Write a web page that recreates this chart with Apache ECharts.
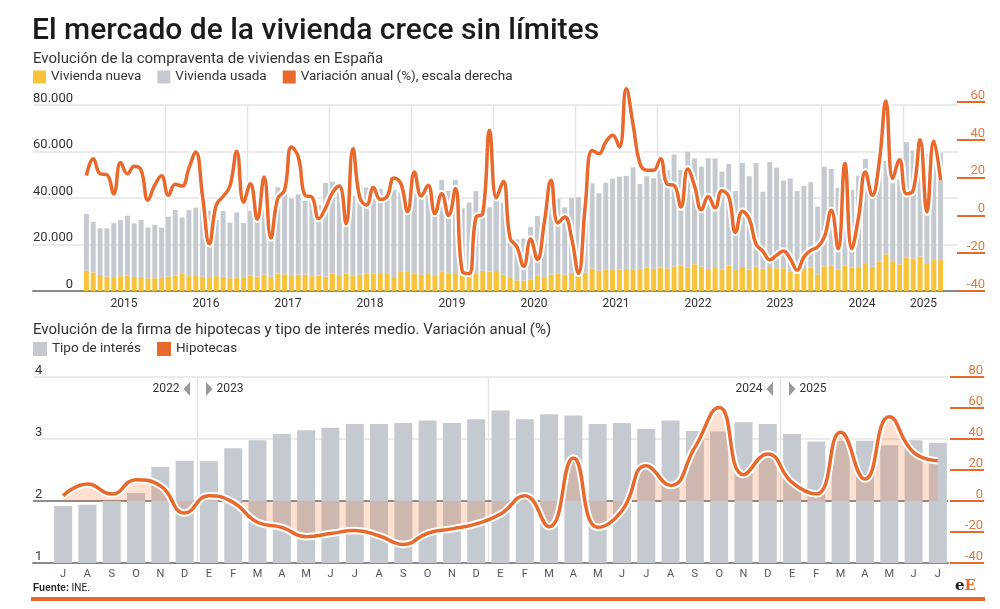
<!DOCTYPE html>
<html lang="es">
<head>
<meta charset="UTF-8">
<title>El mercado de la vivienda crece sin límites</title>
<script src="https://cdn.jsdelivr.net/npm/echarts@6/dist/echarts.min.js"></script>
<style>
  html, body { margin: 0; padding: 0; background: #fff; }
  #chart { width: 1000px; height: 609px; }
</style>
</head>
<body>
<div id="chart"></div>
<script>
// Compraventa de viviendas, enero 2015 - junio 2025
let anios = [2015, 2016, 2017, 2018, 2019, 2020, 2021, 2022, 2023, 2024, 2025];
let nueva = [
  8700, 8000, 6900, 6200, 6000, 6400, 6600, 6000, 6100, 5400, 5500, 5600,
  6200, 6600, 7600, 6400, 6800, 6200, 6000, 6400, 6100, 5500, 5900, 5600,
  6600, 6200, 7000, 6100, 7500, 7200, 6800, 7000, 7100, 6400, 6700, 6200,
  7500, 6800, 7400, 6500, 7000, 7400, 7400, 7300, 7300, 6000, 8500, 8200,
  7400, 7000, 7300, 6800, 8500, 7600, 7700, 6500, 6800, 7300, 8700, 8400,
  8600, 7000, 5600, 4600, 4400, 4800, 6500, 5600, 7100, 7400, 7000, 7800,
  7400, 7800, 9700, 8800, 9200, 9000, 9200, 9500, 9400, 9500, 10200, 9500,
  10000, 9700, 10500, 11000, 10200, 11500, 10500, 9500, 10300, 9300, 11000, 9000,
  10300, 9200, 10400, 9600, 10300, 9800, 9800, 8400, 9800, 9500, 10200, 7200,
  10600, 10800, 9200, 11000, 10000, 10300, 12000, 10400, 12600, 15800, 12500, 11500,
  14300, 14000, 14800, 12000, 13300, 13300
];
let usada = [
  24400, 21800, 20100, 20800, 23200, 24100, 25800, 23100, 24500, 21900, 23000, 21600,
  25800, 28200, 24000, 28400, 29100, 30100, 28500, 24200, 28300, 23900, 27900, 23700,
  27900, 25800, 32500, 28900, 37100, 35100, 32900, 34600, 31600, 34900, 30300, 40300,
  39500, 37200, 36100, 34500, 38500, 37100, 33100, 36700, 32700, 37500, 34000, 30300,
  36600, 35000, 35700, 34200, 39200, 35400, 40000, 29100, 31300, 35700, 28300, 27600,
  31400, 31000, 19900, 17600, 18100, 22800, 25800, 24400, 29900, 32200, 29000, 32200,
  32900, 37100, 36600, 33200, 37400, 39400, 40000, 40000, 43800, 36500, 39200, 39000,
  43000, 42300, 48200, 41000, 49700, 45500, 43000, 47600, 46700, 42000, 43600, 34000,
  44800, 40200, 44600, 33100, 45100, 43200, 37700, 40000, 33200, 35700, 36600, 29100,
  42900, 41700, 35200, 39000, 33400, 39300, 44800, 35200, 39400, 40200, 33800, 36500,
  49700, 46500, 40200, 47000, 42300, 46000
];
let variacion = [
  21, 30, 22, 21.5, 11.5, 28, 22, 26, 24, 8, 16, 21,
  10.6, 16.5, 15.5, 25, 33.5, 10, -15, 5.5, 10, 15.5, 34, 7,
  16.8, -2, 20.3, -12, 9, 13.3, 36.2, 31, 10.6, 9.7, -1.7, 4,
  12, 15.5, -4.4, 35.3, 9.5, 5.5, 14.8, 8.5, 10, 19.8, 17, 2,
  23, 10.2, 16, 1, 11.5, 0, 14.2, -29.5, -30.8, -1, 1, 45,
  9.3, 18, -12, -16.7, -27, -12.5, -23.3, -4, 18.6, -4, -0.9, -12,
  -30.7, 5, 34.4, 32.7, 38.8, 42.4, 36.2, 67, 48, 27.4, 23.9, 23.9,
  30, 16.5, 15.9, 4.4, 24.5, 15.5, 3, 10, 4, 13, 10, -9,
  2.2, -1.8, -15.2, -19, -23.5, -21.1, -18.8, -22.9, -29, -22, -18.5, -16.7,
  -11.4, 2.7, -17.6, 27.4, -17.6, -0.9, 23, 10.6, 27.4, 60.5, 19.5, 29.5,
  11.5, 13.3, 40, 1.8, 39.4, 18.6
];

// Hipotecas y tipo de interés, julio 2022 - julio 2025
let mesesHip = ['J','A','S','O','N','D',
  'E','F','M','A','M','J','J','A','S','O','N','D',
  'E','F','M','A','M','J','J','A','S','O','N','D',
  'E','F','M','A','M','J','J'];
let tipoInteres = [1.92, 1.94, 2.0, 2.13, 2.55, 2.65,
  2.64, 2.85, 2.98, 3.08, 3.14, 3.18, 3.24, 3.24, 3.26, 3.30, 3.26, 3.32,
  3.46, 3.32, 3.40, 3.38, 3.24, 3.26, 3.16, 3.30, 3.13, 3.12, 3.27, 3.24,
  3.08, 2.96, 2.97, 2.97, 2.90, 2.98, 2.94];
let hipotecas = [3.4, 11, 4.5, 13.7, 9.9, -7.7,
  3.4, -0.9, -13.7, -17, -23, -21, -19, -22.4, -28, -20.8, -18, -14.8,
  -8.4, 3.4, -16.6, 27.7, -17, -6.3, 22.8, 10, 34.6, 60.4, 17, 30.3,
  12, 4.5, 44.3, 14.2, 54.4, 31.4, 26];
let marcasAnio = [
  { idx: 6, antes: '2022', despues: '2023' },
  { idx: 30, antes: '2024', despues: '2025' }
];

const naranja = '#e9692c';
const naranjaTexto = '#e47a3f';
const gris = '#c5cad0';
const amarillo = '#f8c23a';
const rejilla = '#e4e4e4';

// categorias mensuales y donde va la etiqueta del año
let meses = [];
anios.forEach(a => {
  for (let m = 1; m <= 12; m++) {
    if (meses.length < nueva.length) meses.push(a + '-' + m);
  }
});
let etiquetasAnio = new Set();
anios.forEach((a, k) => {
  let ini = k * 12, fin = Math.min(ini + 12, meses.length);
  etiquetasAnio.add(Math.floor((ini + fin) / 2));
});

function miles(v) {
  return String(v).replace(/\B(?=(\d{3})+(?!\d))/g, '.');
}

let chart = echarts.init(document.getElementById('chart'));
let option = {
  animation: false,
  textStyle: { fontFamily: 'Roboto' },
  title: [
    { text: 'El mercado de la vivienda crece sin límites', left: 27, top: 11,
      textStyle: { fontSize: 30, fontWeight: 500, color: '#1b1b1b' } },
    { text: 'Evolución de la compraventa de viviendas en España', left: 28, top: 47,
      textStyle: { fontSize: 15, fontWeight: 'normal', color: '#333' } },
    { text: 'Evolución de la firma de hipotecas y tipo de interés medio. Variación anual (%)', left: 28, top: 318,
      textStyle: { fontSize: 15, fontWeight: 'normal', color: '#333' } }
  ],
  legend: [
    { data: ['Vivienda nueva', 'Vivienda usada', 'Variación anual (%), escala derecha'],
      left: 28, top: 65, icon: 'rect', itemWidth: 13, itemHeight: 13, itemGap: 16,
      textStyle: { fontSize: 13.5, color: '#333' } },
    { data: ['Tipo de interés', 'Hipotecas'],
      left: 28, top: 337, icon: 'rect', itemWidth: 14, itemHeight: 14, itemGap: 16,
      textStyle: { fontSize: 13.5, color: '#333' } }
  ],
  grid: [
    { left: 33, right: 42, top: 105, height: 186 },   // rejilla de fondo arriba
    { left: 83, right: 56, top: 105, height: 186 },   // barras compraventa
    { left: 83, right: 56, top: 102, height: 189 },   // linea variacion
    { left: 33, right: 52, top: 377, height: 186 },   // rejilla de fondo abajo
    { left: 51, right: 50, top: 377, height: 186 }    // hipotecas
  ],
  xAxis: [
    { gridIndex: 0, type: 'category', data: [''],
      axisLine: { onZero: false, lineStyle: { color: '#8a8a8a', width: 2 } },
      axisTick: { show: false }, axisLabel: { show: false } },
    { gridIndex: 1, type: 'category', data: meses,
      axisLine: { show: false, onZero: false }, axisTick: { show: false },
      axisLabel: { interval: i => etiquetasAnio.has(i), formatter: v => v.slice(0, 4),
        color: '#333', fontSize: 12, margin: 7, padding: [0, 7, 0, 0] } },
    { gridIndex: 2, type: 'category', data: meses, show: false,
      axisLine: { onZero: false } },
    { gridIndex: 3, type: 'category', data: [''],
      axisLine: { onZero: false, lineStyle: { color: '#8a8a8a', width: 2 } },
      axisTick: { show: false }, axisLabel: { show: false } },
    { gridIndex: 4, type: 'category', data: mesesHip,
      axisLine: { show: false, onZero: false }, axisTick: { show: false },
      axisLabel: { interval: 0, color: '#555', fontSize: 11, margin: 6 } }
  ],
  yAxis: [
    { gridIndex: 0, type: 'value', min: 0, max: 80000, interval: 20000,
      axisLine: { show: false }, axisTick: { show: false },
      axisLabel: { inside: true, align: 'right', margin: 40, verticalAlign: 'bottom',
        color: '#333', fontSize: 13, formatter: miles },
      splitLine: { lineStyle: { color: rejilla, width: 1.5 } } },
    { gridIndex: 1, type: 'value', min: 0, max: 80000, show: false },
    { gridIndex: 2, type: 'value', min: -40, max: 60, interval: 20, position: 'right', offset: 13,
      axisLine: { show: false },
      axisTick: { show: true, length: 28, lineStyle: { color: naranja, width: 2 } },
      axisLabel: { align: 'right', margin: 28, verticalAlign: 'bottom', color: naranjaTexto, fontSize: 13 },
      splitLine: { show: false } },
    { gridIndex: 3, type: 'value', min: 1, max: 4, interval: 1,
      axisLine: { show: false }, axisTick: { show: false },
      axisLabel: { inside: true, align: 'left', margin: 2, verticalAlign: 'bottom',
        color: '#333', fontSize: 13 },
      splitLine: { lineStyle: { color: [rejilla, '#666', rejilla, rejilla], width: 1.5 } } },
    { gridIndex: 4, type: 'value', min: 1, max: 4, show: false },
    { gridIndex: 4, type: 'value', min: -40, max: 80, interval: 20, position: 'right', offset: 0,
      axisLine: { show: false },
      axisTick: { show: true, length: 34, lineStyle: { color: naranja, width: 2 } },
      axisLabel: { align: 'right', margin: 33, verticalAlign: 'bottom', color: naranjaTexto, fontSize: 13 },
      splitLine: { show: false } }
  ],
  series: [
    { name: 'Vivienda nueva', type: 'bar', xAxisIndex: 1, yAxisIndex: 1, stack: 'venta',
      data: nueva, barCategoryGap: '28%', itemStyle: { color: amarillo } },
    { name: 'Vivienda usada', type: 'bar', xAxisIndex: 1, yAxisIndex: 1, stack: 'venta',
      data: usada, itemStyle: { color: gris } },
    { type: 'line', xAxisIndex: 2, yAxisIndex: 2, data: variacion, smooth: 0.45, clip: false,
      symbol: 'none', silent: true, z: 3, lineStyle: { color: '#fff', width: 7.5 } },
    { name: 'Variación anual (%), escala derecha', type: 'line', xAxisIndex: 2, yAxisIndex: 2,
      data: variacion, smooth: 0.45, symbol: 'none', z: 4, clip: false,
      itemStyle: { color: naranja }, lineStyle: { color: naranja, width: 3.5 } },
    { name: 'Tipo de interés', type: 'bar', xAxisIndex: 4, yAxisIndex: 4, data: tipoInteres,
      barWidth: 18, clip: true, itemStyle: { color: gris } },
    { type: 'line', xAxisIndex: 4, yAxisIndex: 5, data: hipotecas, smooth: 0.5,
      symbol: 'none', silent: true, z: 3, lineStyle: { color: '#fff', width: 7.5 },
      areaStyle: { color: 'rgba(240,112,48,0.3)' } },
    { name: 'Hipotecas', type: 'line', xAxisIndex: 4, yAxisIndex: 5, data: hipotecas,
      smooth: 0.5, symbol: 'none', z: 4,
      itemStyle: { color: naranja }, lineStyle: { color: naranja, width: 3.5 } }
  ]
};
chart.setOption(option);

// separadores de año, marcas y pie del grafico
function frontera(eje, i) {
  let x0 = chart.convertToPixel({ xAxisIndex: eje }, i - 1);
  let x1 = chart.convertToPixel({ xAxisIndex: eje }, i);
  return Math.round((x0 + x1) / 2) + 0.5;
}
let graficos = [];
meses.forEach((m, i) => {
  if (i > 0 && i % 12 === 0) {
    let bx = frontera(1, i);
    graficos.push({ type: 'line', z: -1, shape: { x1: bx, y1: 105, x2: bx, y2: 290 },
      style: { stroke: rejilla, lineWidth: 1.5 } });
  }
});
mesesHip.forEach((m, i) => {
  if (i > 0 && m === 'E') {
    let bx = frontera(4, i);
    graficos.push({ type: 'line', z: -1, shape: { x1: bx, y1: 377, x2: bx, y2: 562 },
      style: { stroke: rejilla, lineWidth: 1.5 } });
  }
});
marcasAnio.forEach(m => {
  let bx = frontera(4, m.idx);
  graficos.push(
    { type: 'text', x: bx - 18, y: 389, style: { text: m.antes, align: 'right', verticalAlign: 'middle',
      fontSize: 12, fontFamily: 'Roboto', fill: '#333' } },
    { type: 'polygon', shape: { points: [[bx - 7.5, 382], [bx - 7.5, 396], [bx - 14, 389]] },
      style: { fill: '#9a9a9a' } },
    { type: 'polygon', shape: { points: [[bx + 8.5, 382], [bx + 8.5, 396], [bx + 15, 389]] },
      style: { fill: '#9a9a9a' } },
    { type: 'text', x: bx + 19, y: 389, style: { text: m.despues, align: 'left', verticalAlign: 'middle',
      fontSize: 12, fontFamily: 'Roboto', fill: '#333' } }
  );
});
graficos.push(
  { type: 'text', x: 33, y: 588, style: { text: '{b|Fuente:} INE.', verticalAlign: 'middle',
    fontSize: 10, fontFamily: 'Roboto', fill: '#222', rich: { b: { fontWeight: 'bold', fontSize: 10 } } } },
  { type: 'text', x: 955, y: 586, style: { text: '{e|e}{E|E}', verticalAlign: 'middle',
    rich: { e: { fontFamily: 'DejaVu Serif', fontWeight: 'bold', fontSize: 15, fill: '#222' },
            E: { fontFamily: 'DejaVu Serif', fontWeight: 'bold', fontSize: 15, fill: naranja } } } },
  { type: 'rect', shape: { x: 31, y: 597, width: 954, height: 4 }, style: { fill: naranja } }
);
chart.setOption({ graphic: graficos });
</script>
</body>
</html>
